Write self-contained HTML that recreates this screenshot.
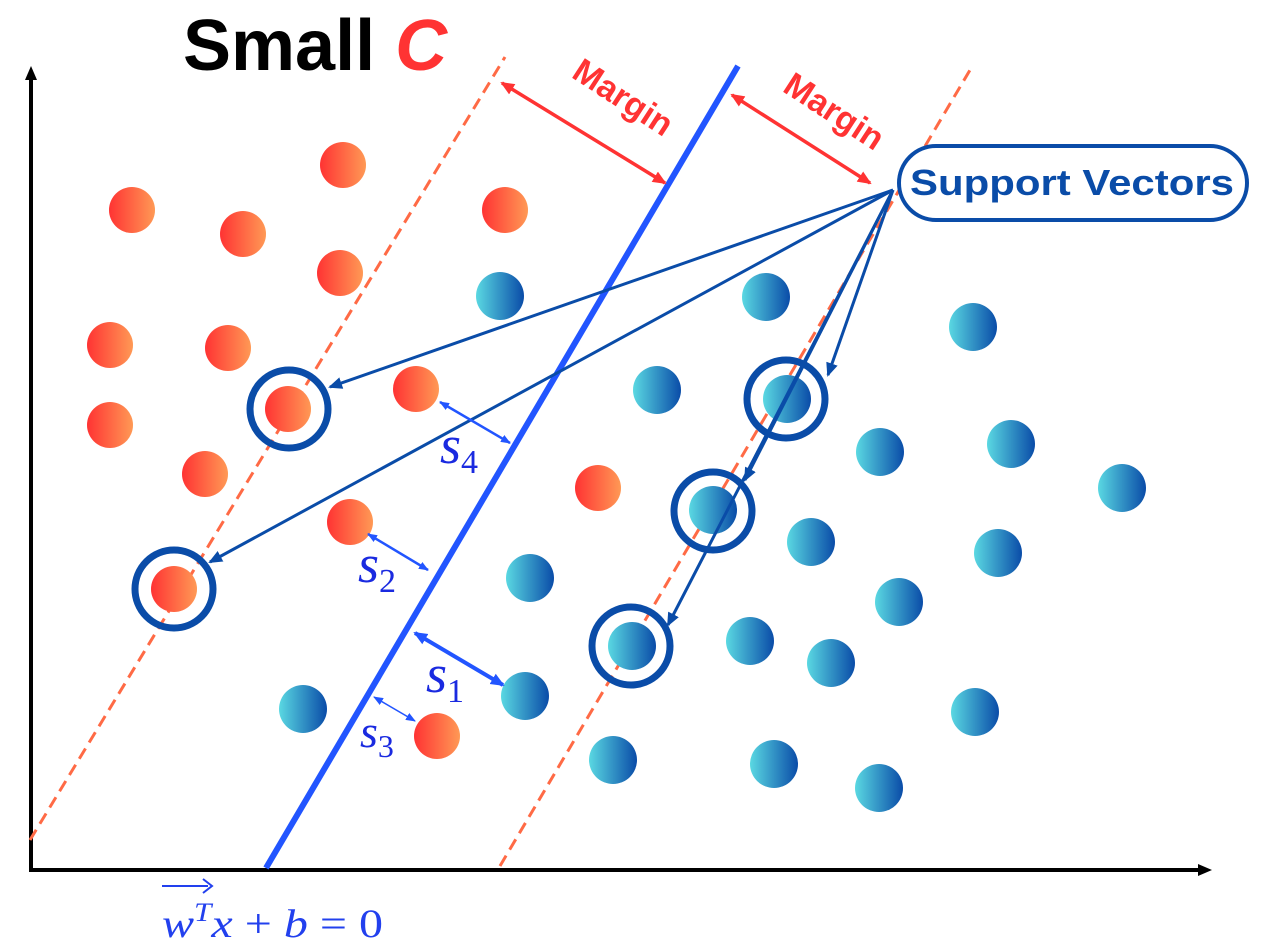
<!DOCTYPE html>
<html><head><meta charset="utf-8"><style>html,body{margin:0;padding:0;background:#fff}svg{display:block}</style></head>
<body>
<svg width="1270" height="952" viewBox="0 0 1270 952" xmlns="http://www.w3.org/2000/svg">
<defs>
<linearGradient id="rg" x1="0" x2="1" y1="0" y2="0"><stop offset="0" stop-color="#ff3333"/><stop offset="1" stop-color="#ff9955"/></linearGradient>
<linearGradient id="bg" x1="0" x2="1" y1="0" y2="0"><stop offset="0" stop-color="#5ad8e2"/><stop offset="1" stop-color="#0a4ca8"/></linearGradient>
<marker id="ak" markerUnits="userSpaceOnUse" markerWidth="16" markerHeight="16" refX="4" refY="8" orient="auto"><path d="M0,2 L14,8 L0,14 Z" fill="#000"/></marker>
<marker id="ar" markerUnits="userSpaceOnUse" markerWidth="16" markerHeight="16" refX="12" refY="8" orient="auto-start-reverse"><path d="M0,2 L14,8 L0,14 Z" fill="#ff3333"/></marker>
<marker id="ab" markerUnits="userSpaceOnUse" markerWidth="16" markerHeight="16" refX="12" refY="8" orient="auto-start-reverse"><path d="M0,2 L14,8 L0,14 Z" fill="#0a4ca8"/></marker>
<marker id="as" markerUnits="userSpaceOnUse" markerWidth="16" markerHeight="16" refX="12" refY="8" orient="auto-start-reverse"><path d="M0,2 L14,8 L0,14 Z" fill="#2255ff"/></marker>
<marker id="as2" markerUnits="userSpaceOnUse" markerWidth="12" markerHeight="12" refX="9" refY="6" orient="auto-start-reverse"><path d="M0,2 L10,6 L0,10 Z" fill="#2255ff"/></marker>
</defs>
<line x1="31" y1="870" x2="31" y2="76" stroke="#000" stroke-width="4" marker-end="url(#ak)"/>
<line x1="29" y1="870" x2="1202" y2="870" stroke="#000" stroke-width="4" marker-end="url(#ak)"/>
<text x="183" y="70" font-family="Liberation Sans, sans-serif" font-weight="bold" font-size="72" fill="#000">Small <tspan fill="#ff3333" font-style="italic">C</tspan></text>
<line x1="30" y1="840" x2="505" y2="57" stroke="#ff6a45" stroke-width="3" stroke-dasharray="12,7"/>
<line x1="500" y1="866" x2="970" y2="70" stroke="#ff6a45" stroke-width="3" stroke-dasharray="12,7"/>
<line x1="266" y1="868" x2="738" y2="66" stroke="#2255ff" stroke-width="6"/>
<line x1="502" y1="83" x2="665" y2="183" stroke="#ff3333" stroke-width="3.5" marker-start="url(#ar)" marker-end="url(#ar)"/>
<line x1="732" y1="95" x2="870" y2="183" stroke="#ff3333" stroke-width="3.5" marker-start="url(#ar)" marker-end="url(#ar)"/>
<text x="617" y="107" transform="rotate(33 617 107)" text-anchor="middle" font-family="Liberation Sans, sans-serif" font-weight="bold" font-size="34" fill="#ff3333">Margin</text>
<text x="828" y="121" transform="rotate(33 828 121)" text-anchor="middle" font-family="Liberation Sans, sans-serif" font-weight="bold" font-size="34" fill="#ff3333">Margin</text>
<g fill="url(#rg)">
<circle cx="343" cy="165" r="23"/><circle cx="132" cy="210" r="23"/><circle cx="243" cy="234" r="23"/><circle cx="340" cy="273" r="23"/><circle cx="505" cy="210" r="23"/><circle cx="110" cy="345" r="23"/><circle cx="228" cy="348" r="23"/><circle cx="110" cy="425" r="23"/><circle cx="205" cy="474" r="23"/><circle cx="288" cy="409" r="23"/><circle cx="416" cy="389" r="23"/><circle cx="350" cy="522" r="23"/><circle cx="174" cy="589" r="23"/><circle cx="598" cy="488" r="23"/><circle cx="437" cy="736" r="23"/>
</g>
<g fill="url(#bg)">
<circle cx="500" cy="296" r="24"/><circle cx="766" cy="297" r="24"/><circle cx="973" cy="327" r="24"/><circle cx="657" cy="390" r="24"/><circle cx="787" cy="399" r="24"/><circle cx="880" cy="452" r="24"/><circle cx="1011" cy="444" r="24"/><circle cx="1122" cy="488" r="24"/><circle cx="713" cy="510" r="24"/><circle cx="811" cy="542" r="24"/><circle cx="998" cy="553" r="24"/><circle cx="530" cy="578" r="24"/><circle cx="899" cy="602" r="24"/><circle cx="750" cy="641" r="24"/><circle cx="632" cy="646" r="24"/><circle cx="831" cy="663" r="24"/><circle cx="525" cy="696" r="24"/><circle cx="303" cy="709" r="24"/><circle cx="975" cy="712" r="24"/><circle cx="613" cy="760" r="24"/><circle cx="774" cy="764" r="24"/><circle cx="879" cy="788" r="24"/>
</g>
<g fill="none" stroke="#0a4ca8" stroke-width="7">
<circle cx="289" cy="409" r="39"/><circle cx="174" cy="589" r="39"/><circle cx="786" cy="399" r="39"/><circle cx="713" cy="511" r="39"/><circle cx="631" cy="646" r="39"/>
</g>
<g stroke="#0a4ca8" stroke-width="3" fill="none">
<line x1="893" y1="190" x2="330" y2="387" marker-end="url(#ab)"/>
<line x1="893" y1="190" x2="210" y2="562" marker-end="url(#ab)"/>
<line x1="893" y1="190" x2="828" y2="375" marker-end="url(#ab)"/>
<line x1="893" y1="190" x2="745" y2="480" marker-end="url(#ab)"/>
<line x1="893" y1="190" x2="668" y2="625" marker-end="url(#ab)"/>
</g>
<rect x="899" y="146" width="348" height="74" rx="37" fill="#fff" stroke="#0a4ca8" stroke-width="4"/>
<text x="910" y="195" textLength="324" lengthAdjust="spacingAndGlyphs" font-family="Liberation Sans, sans-serif" font-weight="bold" font-size="36" fill="#0a4ca8">Support Vectors</text>
<line x1="440" y1="402" x2="510" y2="443" stroke="#2255ff" stroke-width="2.5" marker-start="url(#as2)" marker-end="url(#as2)"/>
<line x1="368" y1="534" x2="428" y2="570" stroke="#2255ff" stroke-width="2.5" marker-start="url(#as2)" marker-end="url(#as2)"/>
<line x1="415" y1="633" x2="503" y2="685" stroke="#2255ff" stroke-width="4" marker-start="url(#as)" marker-end="url(#as)"/>
<line x1="374" y1="697" x2="415" y2="721" stroke="#2255ff" stroke-width="1.5" marker-start="url(#as2)" marker-end="url(#as2)"/>
<g font-family="Liberation Serif, serif" font-style="italic" fill="#1a2ae0">
<text x="440" y="463" font-size="54">s<tspan font-style="normal" font-size="34" dy="10">4</tspan></text>
<text x="358" y="582" font-size="54">s<tspan font-style="normal" font-size="34" dy="10">2</tspan></text>
<text x="426" y="692" font-size="54">s<tspan font-style="normal" font-size="34" dy="10">1</tspan></text>
<text x="360" y="747" font-size="46">s<tspan font-style="normal" font-size="32" dy="10">3</tspan></text>
</g>
<text x="162" y="937" textLength="221" lengthAdjust="spacingAndGlyphs" font-family="Liberation Serif, serif" font-style="italic" font-size="40" fill="#2240ee">w<tspan font-size="26" dy="-16">T</tspan><tspan dy="16">x </tspan><tspan font-style="normal">+ </tspan>b <tspan font-style="normal">= 0</tspan></text>
<line x1="162" y1="886" x2="208" y2="886" stroke="#2240ee" stroke-width="2"/>
<path d="M203,879 L212,886 L203,893" stroke="#2240ee" stroke-width="2" fill="none"/>
</svg>
</body></html>
